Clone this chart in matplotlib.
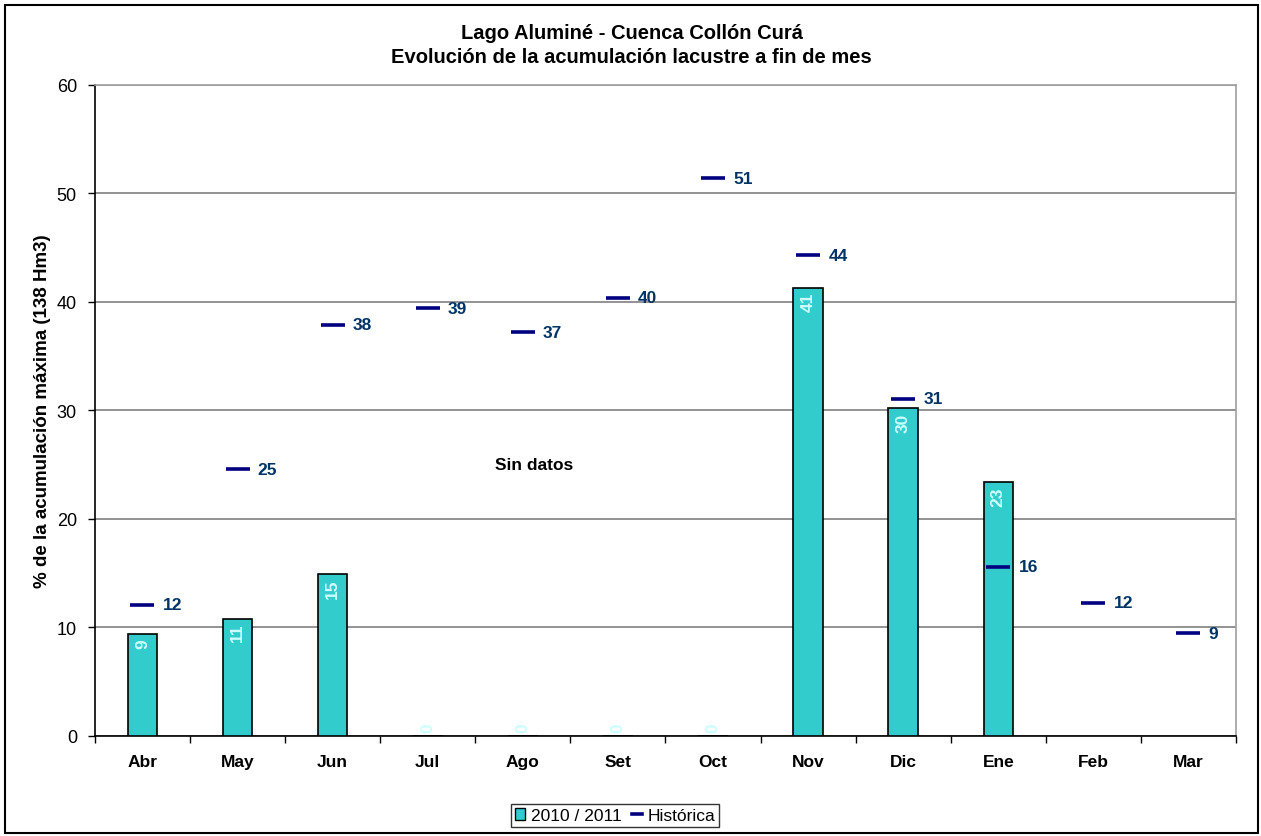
import numpy as np
import matplotlib.pyplot as plt
from matplotlib.patches import Rectangle
from matplotlib.lines import Line2D

plt.rcParams['font.family'] = ['Liberation Sans', 'DejaVu Sans']

meses = ['Abr', 'May', 'Jun', 'Jul', 'Ago', 'Set', 'Oct', 'Nov', 'Dic', 'Ene', 'Feb', 'Mar']
# 2010/2011 (Jul-Oct sin datos -> 0, Feb-Mar aun no medidos)
actual = [9.4, 10.8, 14.9, 0, 0, 0, 0, 41.3, 30.2, 23.4, np.nan, np.nan]
historica = [12.1, 24.6, 37.9, 39.4, 37.2, 40.4, 51.4, 44.3, 31.1, 15.6, 12.3, 9.45]

fig = plt.figure(figsize=(12.61, 8.37), dpi=100)
ax = fig.add_axes([0.0753, 0.1195, 0.9049, 0.7778])

x = np.arange(len(meses))
ax.bar(x, actual, width=0.31, color='#33CCCC', edgecolor='black',
       linewidth=1.2, zorder=3, label='2010 / 2011')
ax.plot(x, historica, linestyle='none', marker='_', markersize=17.5,
        markeredgewidth=2.6, color='#000080', zorder=4, label='Histórica')

# etiquetas de las barras, dentro del extremo superior
for xi, v in zip(x, actual):
    if np.isnan(v):
        continue
    if v > 0:
        ax.annotate(f'{v:.0f}', (xi, v), xytext=(0, -3), textcoords='offset points',
                    ha='center', va='top', rotation=90, color='#CCFFFF',
                    fontsize=12.5, fontweight='bold', zorder=5)
    else:
        ax.annotate(f'{v:.0f}', (xi, v), xytext=(0, 3), textcoords='offset points',
                    ha='center', va='bottom', rotation=90, color='#CCFFFF',
                    fontsize=12.5, fontweight='bold', zorder=5)

# etiquetas de la serie historica
for xi, v in zip(x, historica):
    ax.annotate(f'{v:.0f}', (xi, v), xytext=(14.5, 0), textcoords='offset points',
                ha='left', va='center', color='#003366',
                fontsize=12.5, fontweight='bold', zorder=5)

ax.text(4.12, 25, 'Sin datos', ha='center', va='center', fontsize=12.5, fontweight='bold')

ax.set_xlim(-0.5, len(meses) - 0.5)
ax.set_ylim(0, 60)
ax.set_yticks(range(0, 61, 10))
ax.set_xticks(x)
ax.set_xticklabels(meses, fontsize=12.5, fontweight='bold')
ax.set_xticks(np.arange(-0.5, len(meses)), minor=True)
ax.tick_params(axis='x', which='major', length=0, pad=13)
ax.tick_params(axis='x', which='minor', length=5, direction='out', width=1)
ax.tick_params(axis='y', length=5, direction='out', width=1, labelsize=13, pad=8)
ax.yaxis.grid(True, color='#808080', linewidth=1.2, zorder=0)
ax.set_axisbelow(True)

ax.spines['left'].set_color('black')
ax.spines['bottom'].set_color('black')
ax.spines['top'].set_color('#A0A0A0')
ax.spines['right'].set_color('#A0A0A0')
for s in ax.spines.values():
    s.set_linewidth(1.2)

ax.set_ylabel('% de la acumulación máxima (138 Hm3)', fontsize=13.5, fontweight='bold', labelpad=4)

fig.text(0.501, 0.9456, 'Lago Aluminé - Cuenca Collón Curá\nEvolución de la acumulación lacustre a fin de mes',
         ha='center', va='center', fontsize=14.5, fontweight='bold', linespacing=1.3)

handles = [Rectangle((0, 0), 1, 1, facecolor='#33CCCC', edgecolor='black', linewidth=1),
           Line2D([], [], color='#000080', linewidth=2.6)]
fig.legend(handles, ['2010 / 2011', 'Histórica'], loc='center', bbox_to_anchor=(0.4877, 0.0245),
           ncol=2, frameon=True, fancybox=False, edgecolor='black', fontsize=12.5,
           handlelength=0.6, handleheight=0.7, handletextpad=0.3, columnspacing=0.6,
           borderpad=0.25)

# marco exterior de la figura
fig.patches.append(Rectangle((0.004, 0.003), 0.994, 0.99, transform=fig.transFigure,
                             fill=False, edgecolor='black', linewidth=1.5))

fig.savefig('out.png', dpi=100)
